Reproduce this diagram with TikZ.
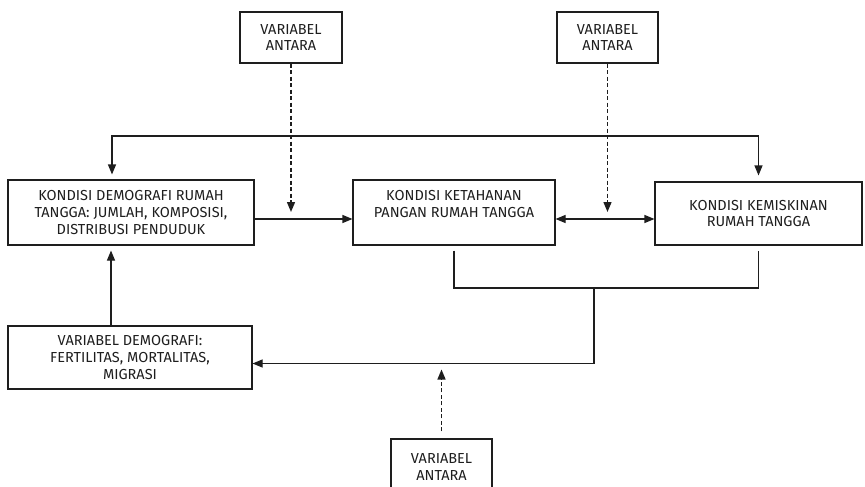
\documentclass[tikz,border=0pt]{standalone}
\usepackage{fontspec}
\setmainfont{Fira Sans}
\usetikzlibrary{arrows.meta, positioning}
\definecolor{garis}{RGB}{30, 30, 30}

\tikzset{
    kotak/.style={rectangle, draw=garis, line width=1.1pt, align=center, inner sep=3pt, text=garis, font=\fontsize{14.5}{16.8}\selectfont},
    panah/.style={-{Triangle[length=10pt, width=8pt]}, line width=1.1pt, draw=garis},
    duapanah/.style={{Triangle[length=10pt, width=8pt]}-{Triangle[length=10pt, width=8pt]}, line width=1.1pt, draw=garis},
    putus/.style={panah, line width=1.4pt, dash pattern=on 4pt off 2.5pt},
}

\begin{document}
\begin{tikzpicture}[x=1pt, y=-1pt]
    \useasboundingbox (0,0) rectangle (865,487);

    % kotak variabel antara
    \node[kotak, minimum width=102pt, minimum height=51pt] (antara1) at (291,37.5) {VARIABEL\\ANTARA};
    \node[kotak, minimum width=101pt, minimum height=51pt] (antara2) at (607.5,37.5) {VARIABEL\\ANTARA};
    \node[kotak, minimum width=101pt, minimum height=56pt] (antara3) at (441.5,467) {VARIABEL\\ANTARA};

    % kotak utama
    \node[kotak, minimum width=246pt, minimum height=65pt] (demografi) at (131,212.5) {KONDISI DEMOGRAFI RUMAH\\TANGGA: JUMLAH, KOMPOSISI,\\DISTRIBUSI PENDUDUK};
    \node[kotak, minimum width=202pt, minimum height=65pt] (ketahanan) at (454,212.5) {KONDISI KETAHANAN\\PANGAN RUMAH TANGGA\\\mbox{}};
    \node[kotak, minimum width=207pt, minimum height=63pt] (kemiskinan) at (758.5,213.5) {KONDISI KEMISKINAN\\RUMAH TANGGA};
    \node[kotak, minimum width=244pt, minimum height=63pt] (vardemo) at (130,357.5) {VARIABEL DEMOGRAFI:\\FERTILITAS, MORTALITAS,\\MIGRASI};

    \coordinate (atas) at (0,136);
    \coordinate (gabung) at (594,288);

    % hubungan antar kotak
    \draw[duapanah, shorten <=5pt, shorten >=6pt] ([xshift=-19pt]demografi.north) -- ([xshift=-19pt]demografi.north |- atas) -| (kemiskinan.north);
    \draw[panah] ([yshift=-6.5pt]demografi.east) -- ([yshift=-6.5pt]demografi.east -| ketahanan.west);
    \draw[duapanah] ([yshift=-6.5pt]ketahanan.east) -- ([yshift=-6.5pt]ketahanan.east -| kemiskinan.west);
    \draw[line width=1.1pt, draw=garis] ([yshift=-5pt]ketahanan.south) |- (gabung) -| ([yshift=-5pt]kemiskinan.south);
    \draw[panah] (gabung) |- ([yshift=-6pt]vardemo.east);
    \draw[panah, shorten >=5pt] ([xshift=-19pt]vardemo.north) -- ([xshift=-20pt]demografi.south);

    % panah putus-putus
    \draw[putus, shorten >=7pt] (antara1.south) -- ([yshift=-6.5pt]antara1.south |- demografi.east);
    \draw[putus, shorten >=7pt] (antara2.south) -- ([yshift=-6.5pt]antara2.south |- ketahanan.east);
    \draw[putus, shorten >=6pt, shorten <=7pt] (antara3.north) -- ([yshift=-6pt]antara3.north |- vardemo.east);
\end{tikzpicture}
\end{document}
